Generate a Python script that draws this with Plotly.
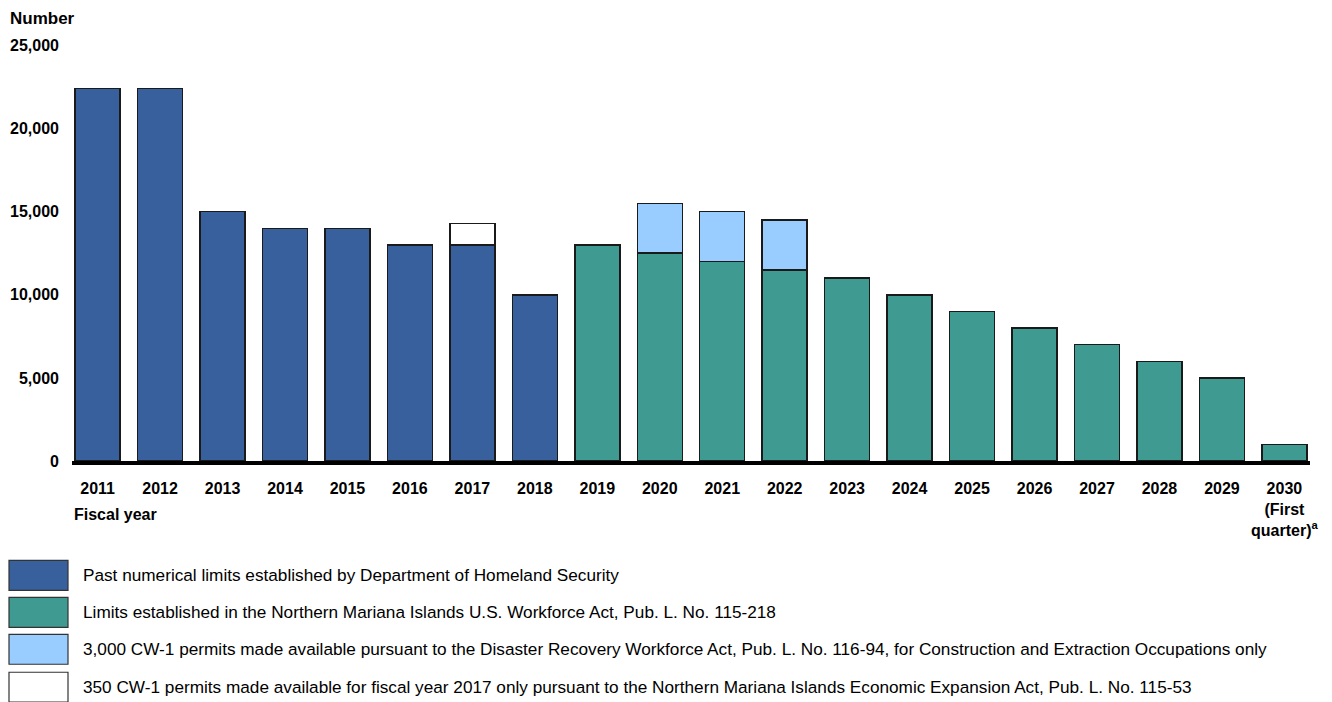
import plotly.graph_objects as go

# fiscal years (category labels)
years = [str(y) for y in range(2011, 2030)] + ["2030<br>(First<br>quarter)<sup>a</sup>"]

# past DHS limits, FY2011-2018
dhs_years = years[:8]
dhs_values = [22417, 22416, 15000, 14000, 13999, 12999, 12998, 9998]

# Workforce Act limits, FY2019-2030
act_years = years[8:]
act_values = [13000, 12500, 12000, 11500, 11000, 10000, 9000, 8000, 7000, 6000, 5000, 1000]

# Disaster Recovery Workforce Act extra permits
drwa_years = ["2020", "2021", "2022"]
drwa_values = [3000, 3000, 3000]

# FY2017 extra permits (as drawn)
eea_years = ["2017"]
eea_values = [1300]

legend_labels = [
    "Past numerical limits established by Department of Homeland Security",
    "Limits established in the Northern Mariana Islands U.S. Workforce Act, Pub. L. No. 115-218",
    "3,000 CW-1 permits made available pursuant to the Disaster Recovery Workforce Act, Pub. L. No. 116-94, for Construction and Extraction Occupations only",
    "350 CW-1 permits made available for fiscal year 2017 only pursuant to the Northern Mariana Islands Economic Expansion Act, Pub. L. No. 115-53",
]
colors = ["#38609C", "#3F9A91", "#99CCFF", "#FFFFFF"]

FONT = "Liberation Sans, Arial, sans-serif"
OFF = 8  # page body margin
W, H = 1332 - OFF, 702 - OFF
L, R, T = 64, 22, 32
B = H - 453.5
plot_w = W - L - R
plot_h = H - T - B


# helpers: page pixel coords -> paper coords
def px_x(x):
    return (x - OFF - L) / plot_w


def px_y(y):
    return (H - B - (y - OFF)) / plot_h


line = dict(color="#1a1a1a", width=1.5)
fig = go.Figure()
fig.add_trace(go.Bar(x=dhs_years, y=dhs_values, marker=dict(color=colors[0], line=line)))
fig.add_trace(go.Bar(x=act_years, y=act_values, marker=dict(color=colors[1], line=line)))
fig.add_trace(go.Bar(x=drwa_years, y=drwa_values, marker=dict(color=colors[2], line=line)))
fig.add_trace(go.Bar(x=eea_years, y=eea_values, marker=dict(color=colors[3], line=line)))

# legend drawn by hand: big boxes + text
row_y = [576, 613, 650, 688]
for label, color, yc in zip(legend_labels, colors, row_y):
    fig.add_shape(
        type="rect", xref="paper", yref="paper",
        x0=px_x(9), x1=px_x(68), y0=px_y(yc - 15), y1=px_y(yc + 15),
        fillcolor=color, line=dict(color="#333333", width=1.2),
    )
    fig.add_annotation(
        x=px_x(81), y=px_y(yc), xref="paper", yref="paper",
        text=label, showarrow=False, xanchor="left", yanchor="middle",
        font=dict(family=FONT, size=17.2, color="black"),
    )

fig.add_annotation(
    x=px_x(OFF + 1), y=px_y(OFF), xref="paper", yref="paper", text="Number",
    showarrow=False, xanchor="left", yanchor="top", borderpad=0,
    font=dict(family=FONT, size=17, color="black", weight="bold"),
)
fig.add_annotation(
    x=px_x(72), y=px_y(515), xref="paper", yref="paper", text="Fiscal year",
    showarrow=False, xanchor="left", yanchor="middle",
    font=dict(family=FONT, size=16, color="black", weight="bold"),
)

fig.update_layout(
    barmode="stack",
    bargap=0.28,
    showlegend=False,
    width=W,
    height=H,
    margin=dict(l=L, r=R, t=T, b=B),
    plot_bgcolor="white",
    paper_bgcolor="white",
    font=dict(family=FONT, color="black"),
)
fig.update_xaxes(
    type="category",
    categoryorder="array",
    categoryarray=years,
    range=[-0.41, 19.41],
    automargin=False,
    showline=True,
    linecolor="black",
    linewidth=4,
    showgrid=False,
    ticks="",
    ticklabelstandoff=10,
    tickfont=dict(family=FONT, size=16, color="black", weight="bold"),
)
fig.update_yaxes(
    range=[0, 25330],
    tickvals=[0, 5000, 10000, 15000, 20000, 25000],
    tickformat=",",
    automargin=False,
    showgrid=False,
    zeroline=False,
    showline=False,
    ticks="",
    ticklabelstandoff=12,
    tickfont=dict(family=FONT, size=16, color="black", weight="bold"),
)

fig.write_html("out.html")
